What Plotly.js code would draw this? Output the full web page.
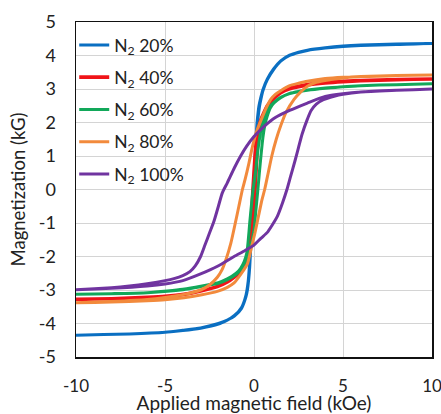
<!DOCTYPE html>
<html>
<head>
<meta charset="utf-8">
<script src="https://cdn.plot.ly/plotly-3.0.1.min.js"></script>
<style>html,body{margin:0;padding:0;background:#fff;}#chart{width:441px;height:414px;}</style>
</head>
<body>
<div id="chart"></div>
<script>
// Series names
var seriesNames = ['N<sub>2</sub> 20%', 'N<sub>2</sub> 40%', 'N<sub>2</sub> 60%', 'N<sub>2</sub> 80%', 'N<sub>2</sub> 100%'];

// N2 20% : descending branch then ascending branch
var h20 = [10, 8, 6, 5, 4, 3, 2.5, 2, 1.5, 1.1, 0.75, 0.5, 0.37, 0.28, 0.2, 0.15, 0.08, 0, -0.08, -0.15, -0.2, -0.26, -0.33, -0.45, -0.7, -1.1, -1.5, -2, -3, -4, -5, -7, -10,
           -10, -7, -5, -4, -3, -2, -1.5, -1.1, -0.7, -0.45, -0.37, -0.3, -0.24, -0.19, -0.1, 0, 0.08, 0.15, 0.22, 0.3, 0.37, 0.5, 0.75, 1.1, 1.5, 2, 2.5, 3, 4, 5, 6, 8, 10];
var m20 = [4.36, 4.34, 4.31, 4.28, 4.23, 4.16, 4.1, 4.01, 3.84, 3.6, 3.3, 2.98, 2.72, 2.5, 2.15, 1.85, 1.2, 0.3, -0.6, -1.3, -1.75, -2.3, -2.75, -3.15, -3.52, -3.76, -3.9, -4.0, -4.13, -4.2, -4.26, -4.31, -4.35,
           -4.35, -4.31, -4.26, -4.21, -4.14, -4.02, -3.9, -3.78, -3.55, -3.2, -3.0, -2.7, -2.3, -1.8, -0.9, 0.1, 1.0, 1.65, 2.1, 2.45, 2.65, 2.95, 3.28, 3.58, 3.83, 4.0, 4.09, 4.15, 4.22, 4.27, 4.3, 4.33, 4.36];

// N2 40%
var h40 = [10, 8, 6, 5, 4, 3, 2.5, 2, 1.5, 1.12, 0.75, 0.56, 0.4, 0.28, 0.15, 0.06, 0, -0.06, -0.12, -0.19, -0.26, -0.37, -0.56, -0.8, -1.12, -1.5, -2.06, -3, -3.93, -5, -6, -8, -10,
           -10, -8, -6, -5, -3.93, -3, -2.06, -1.5, -1.12, -0.8, -0.56, -0.37, -0.26, -0.15, -0.06, 0, 0.06, 0.12, 0.19, 0.28, 0.4, 0.56, 0.75, 1.12, 1.5, 2, 2.5, 3, 4, 5, 6, 8, 10];
var m40 = [3.30, 3.28, 3.25, 3.23, 3.19, 3.13, 3.08, 3.02, 2.9, 2.74, 2.5, 2.3, 2.1, 1.88, 1.55, 1.0, 0.5, 0, -0.6, -1.3, -1.75, -2.05, -2.28, -2.45, -2.6, -2.74, -2.89, -3.03, -3.13, -3.19, -3.22, -3.26, -3.28,
           -3.28, -3.26, -3.22, -3.19, -3.13, -3.03, -2.9, -2.76, -2.62, -2.47, -2.3, -2.08, -1.88, -1.55, -1.0, -0.5, 0, 0.6, 1.3, 1.82, 2.07, 2.28, 2.48, 2.72, 2.89, 3.01, 3.07, 3.12, 3.18, 3.22, 3.25, 3.28, 3.30];

// N2 60%
var h60 = [10, 8, 6, 5, 4, 3, 2.5, 2, 1.5, 1.12, 0.9, 0.7, 0.5, 0.35, 0.2, 0.08, -0.05, -0.15, -0.24, -0.32, -0.4, -0.55, -0.75, -1.0, -1.5, -2.0, -3, -4, -4.87, -6, -8, -10,
           -10, -8, -6, -4.87, -4, -3, -2, -1.5, -1.0, -0.75, -0.55, -0.37, -0.19, 0, 0.1, 0.2, 0.3, 0.4, 0.5, 0.62, 0.75, 0.9, 1.12, 1.5, 2, 2.5, 3, 4, 5, 6, 8, 10];
var m60 = [3.16, 3.13, 3.1, 3.07, 3.03, 2.97, 2.93, 2.87, 2.75, 2.6, 2.48, 2.3, 2.05, 1.65, 1.1, 0.5, 0, -0.5, -1.0, -1.5, -1.88, -2.15, -2.35, -2.5, -2.67, -2.78, -2.89, -2.98, -3.03, -3.08, -3.11, -3.13,
           -3.13, -3.11, -3.08, -3.04, -2.99, -2.9, -2.8, -2.69, -2.53, -2.4, -2.22, -2.0, -1.7, -1.2, -0.65, -0.1, 0.5, 1.05, 1.55, 1.95, 2.2, 2.42, 2.58, 2.74, 2.86, 2.92, 2.96, 3.02, 3.07, 3.1, 3.13, 3.16];

// N2 80%
var h80 = [10, 8, 6, 5, 4, 3, 2.5, 2, 1.5, 1.2, 0.94, 0.7, 0.42, 0.15, -0.1, -0.3, -0.5, -0.65, -0.85, -1.05, -1.3, -1.55, -1.8, -2.06, -2.5, -3, -3.5, -3.93, -5, -6, -8, -10,
           -10, -8, -6, -5, -3.93, -3, -2.06, -1.5, -1.12, -0.7, -0.37, -0.15, 0.05, 0.25, 0.45, 0.6, 0.8, 1.0, 1.25, 1.5, 1.8, 2.25, 2.6, 3.0, 3.5, 4.3, 5, 6, 8, 10];
var m80 = [3.42, 3.40, 3.37, 3.35, 3.31, 3.23, 3.17, 3.1, 2.95, 2.84, 2.69, 2.45, 2.1, 1.74, 1.25, 0.75, 0.3, 0, -0.5, -1.0, -1.6, -2.05, -2.4, -2.62, -2.85, -3.0, -3.08, -3.13, -3.22, -3.28, -3.34, -3.38,
           -3.38, -3.36, -3.32, -3.29, -3.23, -3.15, -3.04, -2.92, -2.79, -2.5, -2.22, -1.74, -1.3, -0.8, -0.3, 0, 0.5, 1.0, 1.5, 1.9, 2.3, 2.69, 2.9, 3.08, 3.2, 3.28, 3.33, 3.37, 3.40, 3.42];

// N2 100%
var h100 = [10, 8, 6, 5, 4, 3, 2, 1.2, 0.6, 0, -0.4, -0.75, -1.1, -1.5, -1.78, -2.0, -2.25, -2.5, -2.75, -3.0, -3.3, -3.6, -4, -4.5, -5, -6, -7, -8, -10,
            -10, -8, -6, -5, -4, -3, -2.05, -1.12, -0.5, 0, 0.4, 0.75, 1.0, 1.31, 1.6, 1.85, 2.06, 2.3, 2.5, 2.7, 3.0, 3.2, 3.5, 3.9, 4.5, 5, 6, 8, 10];
var m100 = [3.0, 2.96, 2.91, 2.86, 2.78, 2.58, 2.36, 2.15, 1.9, 1.58, 1.3, 1.0, 0.65, 0.2, -0.1, -0.5, -0.95, -1.3, -1.65, -2.0, -2.28, -2.45, -2.57, -2.66, -2.72, -2.81, -2.88, -2.93, -2.99,
            -2.99, -2.95, -2.88, -2.82, -2.72, -2.52, -2.29, -2.0, -1.82, -1.66, -1.45, -1.28, -1.08, -0.8, -0.4, 0, 0.4, 0.85, 1.25, 1.65, 2.1, 2.35, 2.55, 2.68, 2.78, 2.84, 2.91, 2.96, 3.0];

var seriesX = [h20, h40, h60, h80, h100];
var seriesY = [m20, m40, m60, m80, m100];
var colors = ['#0A6FC2', '#F01418', '#12A85A', '#F28A3C', '#7034A0'];
var widths = [3, 3.6, 3, 3, 3];

var xTickVals = [-10, -5, 0, 5, 10];
var xTickText = ['-10', '-5', '0', '5', '10'];
var yTickVals = [-5, -4, -3, -2, -1, 0, 1, 2, 3, 4, 5];
var yTickText = ['-5', '-4', '-3', '-2', '-1', '0', '1', '2', '3', '4', '5'];

var traces = seriesX.map(function (xs, i) {
  return {
    x: xs, y: seriesY[i], type: 'scatter', mode: 'lines',
    name: seriesNames[i], legendgroup: 'g' + i,
    line: {color: colors[i], width: widths[i], shape: 'spline', smoothing: 0.6},
    hoverinfo: 'skip'
  };
});

var font = 'Lato, "Open Sans", sans-serif';
var layout = {
  width: 441, height: 414,
  margin: {l: 76, r: 9, t: 22, b: 57},
  paper_bgcolor: '#fff', plot_bgcolor: '#fff',
  font: {family: font, color: '#222'},
  showlegend: true,
  legend: {
    x: -0.005, y: 0.985, xanchor: 'left', yanchor: 'top',
    bgcolor: 'rgba(255,255,255,0)', borderwidth: 0,
    font: {family: font, size: 17.5, color: '#222'},
    tracegroupgap: 6.5, itemwidth: 30, traceorder: 'grouped'
  },
  xaxis: {
    range: [-10, 10], tickvals: xTickVals, ticktext: xTickText,
    showgrid: true, gridcolor: '#d4d4d4', gridwidth: 1,
    zeroline: false, showline: true, mirror: true, linecolor: '#111', linewidth: 1.5,
    ticks: '', ticklabelstandoff: 13, ticklabeloverflow: 'allow',
    tickfont: {family: font, size: 17, color: '#222'},
    title: {text: 'Applied magnetic field (kOe)', font: {family: font, size: 19, color: '#222'}, standoff: 6},
    fixedrange: true
  },
  yaxis: {
    range: [-5, 5], tickvals: yTickVals, ticktext: yTickText,
    showgrid: true, gridcolor: '#d4d4d4', gridwidth: 1,
    zeroline: false, showline: true, mirror: true, linecolor: '#111', linewidth: 1.5,
    ticks: '', ticklabelstandoff: 15,
    tickfont: {family: font, size: 18, color: '#222'},
    title: {text: 'Magnetization (kG)', font: {family: font, size: 18.5, color: '#222'}, standoff: 8},
    fixedrange: true
  }
};

Plotly.newPlot('chart', traces, layout, {displayModeBar: false, staticPlot: true});
</script>
</body>
</html>
